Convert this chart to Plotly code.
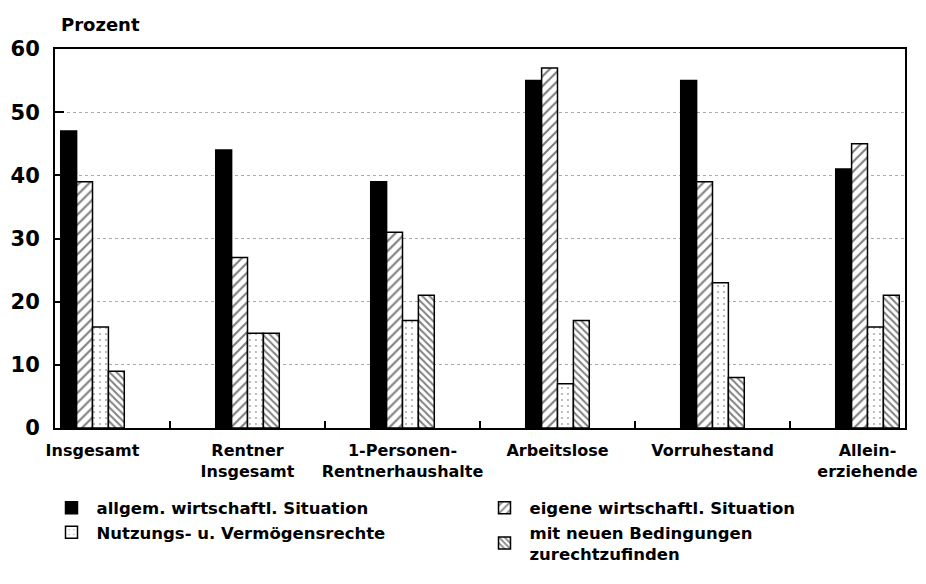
import plotly.graph_objects as go

categories = ["Insgesamt", "Rentner<br>Insgesamt", "1-Personen-<br>Rentnerhaushalte",
              "Arbeitslose", "Vorruhestand", "Allein-<br>erziehende"]
series_names = ["allgem. wirtschaftl. Situation", "eigene wirtschaftl. Situation",
                "Nutzungs- u. Vermögensrechte", "mit neuen Bedingungen<br>zurechtzufinden"]
allgem = [47, 44, 39, 55, 55, 41]
eigene = [39, 27, 31, 57, 39, 45]
nutzung = [16, 15, 17, 7, 23, 16]
neue = [9, 15, 21, 17, 8, 21]
y_ticks = [0, 10, 20, 30, 40, 50, 60]

FONT = "DejaVu Sans"

styles = [
    dict(color="black"),
    dict(color="white", pattern=dict(shape="/", size=7, solidity=0.3, fgcolor="black", bgcolor="white")),
    dict(color="white", pattern=dict(shape=".", size=6, solidity=0.08, fgcolor="#444", bgcolor="white")),
    dict(color="white", pattern=dict(shape="\\", size=5, solidity=0.4, fgcolor="black", bgcolor="white")),
]

fig = go.Figure()
for name, vals, st in zip(series_names, [allgem, eigene, nutzung, neue], styles):
    marker = dict(st)
    marker["line"] = dict(color="black", width=1.5)
    fig.add_trace(go.Bar(x=categories, y=vals, name=name, marker=marker))

fig.update_layout(
    width=926, height=584,
    margin=dict(l=47, r=29, t=41, b=164, autoexpand=False),
    paper_bgcolor="white", plot_bgcolor="white",
    barmode="group", bargap=0.59, bargroupgap=0,
    font=dict(family=FONT, color="black"),
    showlegend=True,
    legend=dict(orientation="h", x=-0.01, xanchor="left", y=-0.165, yanchor="top",
                entrywidth=378, entrywidthmode="pixels",
                font=dict(family=FONT, size=16.5, weight="bold", color="black"),
                traceorder="normal", itemwidth=40),
    xaxis=dict(
        range=[-0.242, 5.242], automargin=False, tickangle=0,
        showline=True, linecolor="black", linewidth=2, mirror=True,
        ticks="inside", tickson="boundaries", ticklen=7, tickwidth=2, tickcolor="black",
        tickfont=dict(family=FONT, size=16, weight="bold", color="black"),
        ticklabelstandoff=7,
        showgrid=False,
    ),
    yaxis=dict(
        range=[0, 60], tickvals=y_ticks, automargin=False,
        showline=True, linecolor="black", linewidth=2, mirror=True,
        ticks="inside", ticklen=9, tickwidth=1.5, tickcolor="black",
        tickfont=dict(family=FONT, size=21, weight="bold", color="black"),
        ticklabelstandoff=9,
        showgrid=True, gridcolor="#aaa", griddash="dot", gridwidth=1,
        zeroline=False,
    ),
    annotations=[dict(text="Prozent", xref="paper", yref="paper", x=0, y=1,
                      xanchor="left", yanchor="bottom", xshift=4, yshift=12,
                      showarrow=False,
                      font=dict(family=FONT, size=18, weight="bold", color="black"))],
)

fig.write_html("out.html")
